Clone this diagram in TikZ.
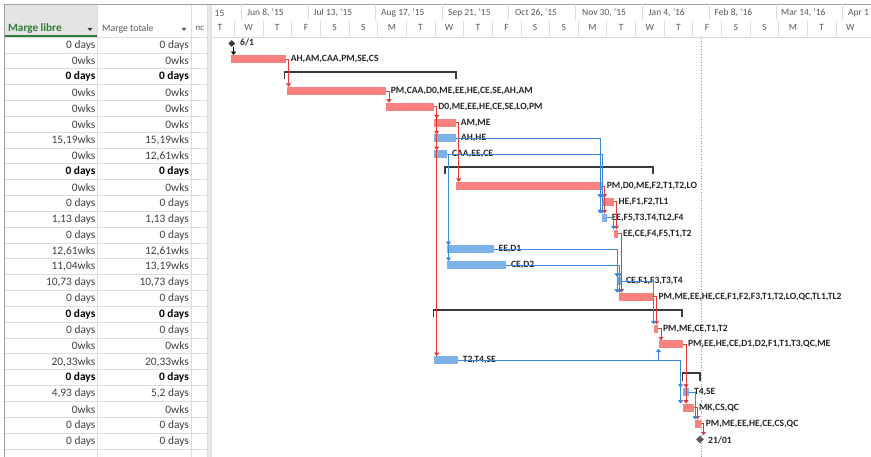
\documentclass[tikz,border=0pt]{standalone}
\usepackage{fontspec}
\setmainfont{Carlito}
\usetikzlibrary{arrows.meta,calc,shapes.geometric}
\definecolor{barred}{HTML}{F7827F}
\definecolor{barblue}{HTML}{7DB2E8}
\definecolor{lnred}{HTML}{E2393B}
\definecolor{lnblue}{HTML}{3B87D8}
\definecolor{gridc}{HTML}{DCDCDC}
\definecolor{hdrgray}{HTML}{5A5A5A}
\definecolor{txtgray}{HTML}{404040}
\definecolor{xlgreen}{HTML}{2E7D32}
\definecolor{sumc}{HTML}{3A3A3A}
\definecolor{hdrbg}{HTML}{E4E4E4}
\definecolor{bordc}{HTML}{A0A0A0}
\definecolor{splitc}{HTML}{E8E8E8}
\tikzset{
  tabtxt/.style={font=\fontsize{11.4}{13}\selectfont, text=txtgray, inner sep=0, anchor=east},
  tabbold/.style={font=\fontsize{11.4}{13}\selectfont\bfseries, text=black, inner sep=0, anchor=east},
  lab/.style={font=\fontsize{9.6}{11}\selectfont\bfseries, text=black!85, inner sep=0, anchor=west},
  scaletxt/.style={font=\fontsize{9.5}{11}\selectfont, text=hdrgray, inner sep=0},
  redbar/.style={fill=barred, draw=none, inner sep=0, minimum height=8pt, anchor=west},
  bluebar/.style={fill=barblue, draw=none, inner sep=0, minimum height=8pt, anchor=west},
  rl/.style={draw=lnred, line width=0.8pt},
  bl/.style={draw=lnblue, line width=0.8pt},
  tipr/.style={rl, -{Triangle[length=3.5pt,width=5pt]}},
  tipb/.style={bl, -{Triangle[length=3.5pt,width=5pt]}},
  tipk/.style={draw=black, line width=0.8pt, -{Triangle[length=3.5pt,width=5pt]}},
  sumbar/.style={draw=sumc, line width=1.8pt},
  mstone/.style={diamond, fill=sumc, inner sep=0, minimum size=7pt},
}
\newcommand\trow[4]{%
  \node[#4] (ta#1) at (95.5,{45+15.84*(#1-1)}) {#2};
  \node[#4] (tb#1) at (189,{45+15.84*(#1-1)}) {#3};}
\newcommand\gbar[5]{\node[#1, minimum width={(#4-#3)*1pt}] (b#2) at (#3,#5) {};}
\newcommand\blab[2]{\node[lab] (l#1) at ($(b#1.east)+(4.5,0)$) {#2};}
\begin{document}
\begin{tikzpicture}[x=1pt,y=-1pt]
\useasboundingbox (0,0) rectangle (871,457);
\fill[white] (0,0) rectangle (871,457);
% ---------- table ----------
\fill[hdrbg] (4.5,4.5) rectangle (97.7,36);
\foreach \k in {0,...,26} \draw[gridc, line width=0.6pt] (4.5,{37+15.84*\k}) -- (207.5,{37+15.84*\k});
\draw[xlgreen, line width=2pt] (4.5,36) -- (97.7,36);
\draw[gridc, line width=0.6pt] (97.7,4.5) -- (97.7,457) (191,4.5) -- (191,457);
\fill[splitc] (207.5,4.5) rectangle (211.5,457);
\draw[gridc, line width=0.6pt] (207.5,4.5) -- (207.5,457) (211.5,4.5) -- (211.5,457);
\draw[bordc, line width=0.7pt] (4.5,457) -- (4.5,4.5) -- (871,4.5);
\draw[gridc, line width=0.6pt] (211.5,37) -- (871,37);
% header texts
\node[font=\fontsize{11.2}{13}\selectfont\bfseries, text=xlgreen, anchor=west, inner sep=0] (h1) at (8,28.5) {Marge libre};
\fill[sumc] (87.5,28) -- (92.5,28) -- (90,31) -- cycle;
\node[font=\fontsize{9.8}{12}\selectfont, text=hdrgray, anchor=west, inner sep=0] (h2) at (102,28.5) {Marge totale};
\fill[hdrgray] (181.5,28) -- (186.5,28) -- (184,31) -- cycle;
\node[font=\fontsize{9}{11}\selectfont\itshape, text=hdrgray, anchor=west, inner sep=0] (h3) at (195.5,28.5) {nc};
% rows
\trow{1}{0 days}{0 days}{tabtxt}
\trow{2}{0wks}{0wks}{tabtxt}
\trow{3}{0 days}{0 days}{tabbold}
\trow{4}{0wks}{0wks}{tabtxt}
\trow{5}{0wks}{0wks}{tabtxt}
\trow{6}{0wks}{0wks}{tabtxt}
\trow{7}{15,19wks}{15,19wks}{tabtxt}
\trow{8}{0wks}{12,61wks}{tabtxt}
\trow{9}{0 days}{0 days}{tabbold}
\trow{10}{0wks}{0wks}{tabtxt}
\trow{11}{0 days}{0 days}{tabtxt}
\trow{12}{1,13 days}{1,13 days}{tabtxt}
\trow{13}{0 days}{0 days}{tabtxt}
\trow{14}{12,61wks}{12,61wks}{tabtxt}
\trow{15}{11,04wks}{13,19wks}{tabtxt}
\trow{16}{10,73 days}{10,73 days}{tabtxt}
\trow{17}{0 days}{0 days}{tabtxt}
\trow{18}{0 days}{0 days}{tabbold}
\trow{19}{0 days}{0 days}{tabtxt}
\trow{20}{0wks}{0wks}{tabtxt}
\trow{21}{20,33wks}{20,33wks}{tabtxt}
\trow{22}{0 days}{0 days}{tabbold}
\trow{23}{4,93 days}{5,2 days}{tabtxt}
\trow{24}{0wks}{0wks}{tabtxt}
\trow{25}{0 days}{0 days}{tabtxt}
\trow{26}{0 days}{0 days}{tabtxt}
% ---------- timescale ----------
\foreach \k in {0,...,9} \draw[gridc, line width=0.6pt] ({241.5+66.8*\k},4.5) -- ({241.5+66.8*\k},20);
\foreach \k in {0,...,21} \draw[gridc, line width=0.6pt] ({234.3+28.65*\k},21) -- ({234.3+28.65*\k},36);
\node[scaletxt, anchor=west] (d0) at (214.5,13) {15};
\node[scaletxt, anchor=west] (d1) at (247,13) {Jun 8, '15};
\node[scaletxt, anchor=west] (d2) at (313.5,13) {Jul 13, '15};
\node[scaletxt, anchor=west] (d3) at (381,13) {Aug 17, '15};
\node[scaletxt, anchor=west] (d4) at (448,13) {Sep 21, '15};
\node[scaletxt, anchor=west] (d5) at (515,13) {Oct 26, '15};
\node[scaletxt, anchor=west] (d6) at (582,13) {Nov 30, '15};
\node[scaletxt, anchor=west] (d7) at (648.5,13) {Jan 4, '16};
\node[scaletxt, anchor=west] (d8) at (714.5,13) {Feb 8, '16};
\node[scaletxt, anchor=west] (d9) at (781,13) {Mar 14, '16};
\node[scaletxt, anchor=west] (d10) at (848,13) {Apr 1};
\foreach \l [count=\k from 0] in {T,W,T,F,S,S,M,T,W,T,F,S,S,M,T,W,T,F,S,S,M,T,W}
  \node[scaletxt] (w\k) at ({220+28.65*\k},27.5) {\l};
% today line
\draw[gridc!70!black, dotted, line width=0.7pt] (701.5,38) -- (701.5,457);
% ---------- summary bars ----------
\draw[sumbar] (284.5,79.5) -- (284.5,72) -- (456,72) -- (456,79.5);
\draw[sumbar] (445,174.5) -- (445,167) -- (653,167) -- (653,174.5);
\draw[sumbar] (433.5,317.5) -- (433.5,310) -- (682,310) -- (682,317.5);
\draw[sumbar] (682.5,380.5) -- (682.5,373) -- (700,373) -- (700,380.5);
% ---------- bars ----------
\gbar{redbar}{2}{230.5}{285.7}{59.3}
\gbar{redbar}{4}{286.5}{385.7}{91.0}
\gbar{redbar}{5}{385.7}{433.3}{106.9}
\gbar{redbar}{6}{434}{455.7}{122.7}
\gbar{bluebar}{7}{434}{456}{138.5}
\gbar{bluebar}{8}{434}{447}{154.4}
\gbar{redbar}{10}{456}{601.7}{186.1}
\gbar{redbar}{11}{602.5}{613.5}{201.9}
\gbar{bluebar}{12}{602}{606.7}{217.7}
\gbar{redbar}{13}{613.5}{618}{233.6}
\gbar{bluebar}{14}{446.7}{493.5}{249.4}
\gbar{bluebar}{15}{446.7}{506}{265.3}
\gbar{bluebar}{16}{618}{621}{281.1}
\gbar{redbar}{17}{619}{653.5}{296.9}
\gbar{redbar}{19}{653.5}{658}{328.6}
\gbar{redbar}{20}{658.5}{683}{344.5}
\gbar{bluebar}{21}{434}{457.7}{360.3}
\gbar{bluebar}{23}{683}{689}{392.0}
\gbar{redbar}{24}{683}{694}{407.8}
\gbar{redbar}{25}{695}{700.7}{423.7}
\node[mstone] (m1) at (231.7,43.5) {};
\node[mstone, minimum size=8pt, fill=hdrgray] (m26) at (700,439.5) {};
% ---------- labels ----------
\node[lab] (l1) at (240,42.5) {6/1};
\blab{2}{AH,AM,CAA,PM,SE,CS}
\blab{4}{PM,CAA,D0,ME,EE,HE,CE,SE,AH,AM}
\blab{5}{D0,ME,EE,HE,CE,SE,LO,PM}
\blab{6}{AM,ME}
\blab{7}{AH,HE}
\blab{8}{CAA,EE,CE}
\blab{10}{PM,D0,ME,F2,T1,T2,LO}
\blab{11}{HE,F1,F2,TL1}
\blab{12}{EE,F5,T3,T4,TL2,F4}
\blab{13}{EE,CE,F4,F5,T1,T2}
\blab{14}{EE,D1}
\blab{15}{CE,D2}
\blab{16}{CE,F1,F3,T3,T4}
\blab{17}{PM,ME,EE,HE,CE,F1,F2,F3,T1,T2,LO,QC,TL1,TL2}
\blab{19}{PM,ME,CE,T1,T2}
\blab{20}{PM,EE,HE,CE,D1,D2,F1,T1,T3,QC,ME}
\blab{21}{T2,T4,SE}
\blab{23}{T4,SE}
\blab{24}{MK,CS,QC}
\blab{25}{PM,ME,EE,HE,CE,CS,QC}
\node[lab] (l26) at (708,440) {21/01};
% ---------- connectors ----------
\coordinate (k0) at (233.5,47);
\draw[tipk] (k0) -- (k0 |- b2.north);
% red (critical) links
\coordinate (r1) at (288.5,0);
\draw[tipr] (b2.east) -| (r1 |- b4.north);
\coordinate (r2) at (389,0);
\draw[tipr] (b4.east) -| (r2 |- b5.north);
\coordinate (r3) at (436.7,0);
\draw[rl] (b5.east) -| (r3 |- b5.east);
\foreach \t in {6,7,8,21} \draw[tipr] (r3 |- b5.east) -- (r3 |- b\t.north);
\coordinate (r4) at (458.7,0);
\draw[tipr] (b6.east) -| (r4 |- b10.north);
\coordinate (r5) at (604.5,0);
\draw[tipr] (b10.east) -| (r5 |- b11.north);
\draw[tipr] (r5 |- b10.east) -- (r5 |- b12.north);
\coordinate (r6) at (616.5,0);
\draw[tipr] (b11.east) -| (r6 |- b13.north);
\coordinate (r7) at (621.5,0);
\draw[tipr] (b13.east) -| (r7 |- b17.north);
\coordinate (r8) at (656.5,0);
\draw[tipr] (b17.east) -| (r8 |- b19.north);
\coordinate (r9) at (661,0);
\draw[tipr] (b19.east) -| (r9 |- b20.north);
\coordinate (r10) at (686,0);
\draw[tipr] (b20.east) -| (r10 |- b23.north);
\draw[tipr] (r10 |- b20.east) -- (r10 |- b24.north);
\coordinate (r11) at (697.5,0);
\draw[tipr] (b24.east) -| (r11 |- b25.north);
\coordinate (r12) at (703.5,0);
\draw[tipr] (b25.east) -| (r12 |- m26.north);
% blue links
\coordinate (u1) at (600,0);
\draw[tipb] (b7.east) -| (u1 |- b11.north);
\draw[tipb] (u1 |- b7.east) -- (u1 |- b12.north);
\coordinate (u2) at (602,0);
\draw[tipb] (b8.east) -| (u2 |- b11.north);
\draw[tipb] (u2 |- b8.east) -- (u2 |- b12.north);
\coordinate (u3) at (448.5,0);
\draw[tipb] (b8.east) -| (u3 |- b14.north);
\draw[tipb] (u3 |- b8.east) -- (u3 |- b15.north);
\coordinate (u4) at (613.5,0);
\draw[tipb] (b12.east) -| (u4 |- b13.north);
\coordinate (u5) at (617,0);
\draw[tipb] (b14.east) -| (u5 |- b16.north);
\draw[tipb] (u5 |- b14.east) -- (u5 |- b17.north);
\coordinate (u6) at (619.5,0);
\draw[tipb] (b15.east) -| (u6 |- b16.north);
\draw[tipb] (u6 |- b15.east) -- (u6 |- b17.north);
\coordinate (u7) at (653.5,0);
\draw[tipb] (b16.east) -| (u7 |- b19.north);
\coordinate (u8) at (680.5,0);
\draw[tipb] (b21.east) -| (u8 |- b23.north);
\draw[tipb] (u8 |- b21.east) -- (u8 |- b24.north);
\coordinate (u9) at (658.5,0);
\draw[tipb] (u9 |- b21.east) -- (u9 |- b20.south);
\coordinate (u10) at (695,0);
\draw[tipb] (b23.east) -| (u10 |- b25.north);
\end{tikzpicture}
\end{document}
